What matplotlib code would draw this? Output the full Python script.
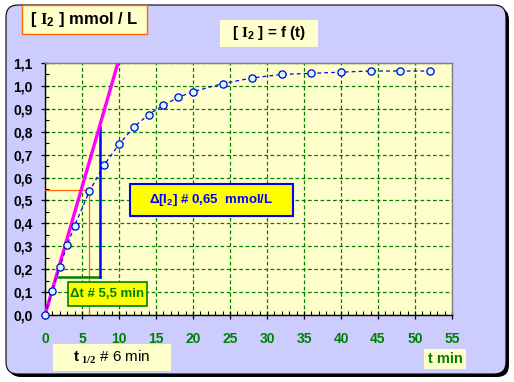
import matplotlib
matplotlib.use("Agg")
import matplotlib.pyplot as plt
from matplotlib.patches import FancyBboxPatch, Rectangle
from matplotlib.transforms import IdentityTransform
from matplotlib.ticker import MultipleLocator, FuncFormatter

plt.rcParams['font.family'] = ['Liberation Sans', 'DejaVu Sans']
plt.rcParams['mathtext.fontset'] = 'custom'
plt.rcParams['mathtext.rm'] = 'Liberation Serif:bold'
plt.rcParams['mathtext.sf'] = 'Liberation Sans:bold'
plt.rcParams['mathtext.bf'] = 'Liberation Sans:bold'
plt.rcParams['mathtext.it'] = 'Liberation Sans:italic'

# ---- data ----
t_min = [0, 1, 2, 3, 4, 6, 8, 10, 12, 14, 16, 18, 20, 24, 28, 32, 36, 40, 44, 48, 52]
i2_conc = [0.0, 0.105, 0.21, 0.305, 0.39, 0.54, 0.655, 0.745, 0.82, 0.875, 0.915,
           0.95, 0.975, 1.01, 1.035, 1.05, 1.055, 1.06, 1.065, 1.065, 1.065]
tangent_t = [0, 9.85]
tangent_c = [0.0, 1.1]
dt_t = [1.7, 7.4]          # horizontal green segment (Δt)
dt_c = 0.167
dc_c = [0.167, 0.82]       # vertical blue segment (Δ[I2])
half_t = 6                 # t1/2
half_c = 0.545             # half concentration
x_ticks = [0, 5, 10, 15, 20, 25, 30, 35, 40, 45, 50, 55]
y_ticks = [0.0, 0.1, 0.2, 0.3, 0.4, 0.5, 0.6, 0.7, 0.8, 0.9, 1.0, 1.1]

W, H = 514, 382
fig = plt.figure(figsize=(W / 100, H / 100), dpi=100)
fig.patch.set_facecolor('white')

# background frame: shadow + lavender rounded rect
shadow = FancyBboxPatch((9 + 12, 5 + 12), (509 - 9) - 24, (374 - 5) - 24,
                        boxstyle="round,pad=12", transform=IdentityTransform(),
                        facecolor='black', edgecolor='black', lw=0, zorder=-10)
fig.patches.append(shadow)
frame = FancyBboxPatch((6 + 12, 8 + 12), (506 - 6) - 24, (377 - 8) - 24,
                       boxstyle="round,pad=12", transform=IdentityTransform(),
                       facecolor='#CCCCFF', edgecolor='black', lw=0.8, zorder=-9)
fig.patches.append(frame)

# axes
L, R, T, B = 45, 452, 63, 315
ax = fig.add_axes([L / W, (H - B) / H, (R - L) / W, (B - T) / H])
ax.set_facecolor('#FFFFCC')
ax.set_xlim(0, 55)
ax.set_ylim(0, 1.1)
ax.xaxis.set_minor_locator(MultipleLocator(1))
ax.yaxis.set_minor_locator(MultipleLocator(0.05))
ax.set_xticks(x_ticks)
ax.set_yticks(y_ticks)
ax.yaxis.set_major_formatter(FuncFormatter(lambda v, p: f"{v:.1f}".replace('.', ',')))
ax.xaxis.set_major_formatter(FuncFormatter(lambda v, p: f"{int(round(v))}"))
ax.grid(True, which='major', color='#008000', linestyle=(0, (3, 2)), lw=0.9)
ax.set_axisbelow(True)
for s in ['left', 'bottom']:
    ax.spines[s].set_color('black')
    ax.spines[s].set_linewidth(1.0)
for s in ['right', 'top']:
    ax.spines[s].set_color('#808080')
    ax.spines[s].set_linewidth(1.0)
ax.tick_params(which='major', direction='inout', length=6, width=0.9, color='black')
ax.tick_params(which='minor', direction='in', length=3, width=0.8, color='black')
ax.tick_params(axis='y', labelsize=10, labelcolor='black', pad=6)
ax.tick_params(axis='x', labelsize=10, labelcolor='#008000', pad=9)
for lab in ax.get_xticklabels() + ax.get_yticklabels():
    lab.set_fontweight('bold')

# construction lines
ax.plot([0, half_t], [half_c, half_c], color='#FF6600', lw=0.9, zorder=3)
ax.plot([half_t, half_t], [0, half_c], color='#FF6600', lw=0.9, zorder=3)
ax.plot(dt_t, [dt_c, dt_c], color='#008000', lw=1.8, zorder=4)
ax.plot([dt_t[1], dt_t[1]], dc_c, color='#0000FF', lw=1.8, zorder=4)
ax.plot(tangent_t, tangent_c, color='#FF00FF', lw=2.4, zorder=5)

# data
ax.plot(t_min, i2_conc, color='#0000FF', lw=0.9, linestyle=(0, (3, 2.5)),
        marker='o', markersize=5.2, markerfacecolor='#CCFFFF',
        markeredgecolor='#0000CC', markeredgewidth=0.9, zorder=6, clip_on=False)

# text boxes in pixel coordinates
def box(x0, y0, x1, y1, face, edge=None, lw=0):
    r = Rectangle((x0, H - y1), x1 - x0, y1 - y0, transform=IdentityTransform(),
                  facecolor=face, edgecolor=edge if edge else face, lw=lw, zorder=10)
    fig.patches.append(r)
    return ((x0 + x1) / 2 / W, (H - (y0 + y1) / 2) / H)

c = box(22, 5, 147, 34, '#FFFFCC', '#FF6600', 1.0)
fig.text(c[0], c[1], r"[ $\mathrm{I}_{\mathsf{2}}$ ] mmol / L", ha='center', va='center',
         fontsize=12, fontweight='bold', color='black', zorder=11)

c = box(220, 20, 318, 47, '#FFFFCC')
fig.text(c[0], c[1], r"[ $\mathrm{I}_{\mathsf{2}}$ ] = f (t)", ha='center', va='center',
         fontsize=11, fontweight='bold', color='black', zorder=11)

c = box(130, 184, 293, 216, '#FFFF00', '#0000FF', 1.5)
fig.text(c[0], c[1], r"Δ[$\mathsf{I}_{\mathsf{2}}$] # 0,65  mmol/L", ha='center', va='center',
         fontsize=9.5, fontweight='bold', color='#0000FF', zorder=11)

c = box(68, 282, 147, 306, '#FFFF00', '#008000', 1.2)
fig.text(c[0], c[1], "Δt # 5,5 min", ha='center', va='center',
         fontsize=9.5, fontweight='bold', color='#008000', zorder=11)

c = box(53, 344, 171, 371, '#FFFFCC')
fig.text(c[0], c[1], r"$\mathbf{t}_{\ \mathit{1/2}}$ # 6 min", ha='center', va='center',
         fontsize=11, color='black', zorder=11)

c = box(424, 349, 466, 369, '#FFFFCC')
fig.text(c[0], c[1], "t min", ha='center', va='center',
         fontsize=10.5, fontweight='bold', color='#008000', zorder=11)

fig.savefig('out.png', dpi=100)
